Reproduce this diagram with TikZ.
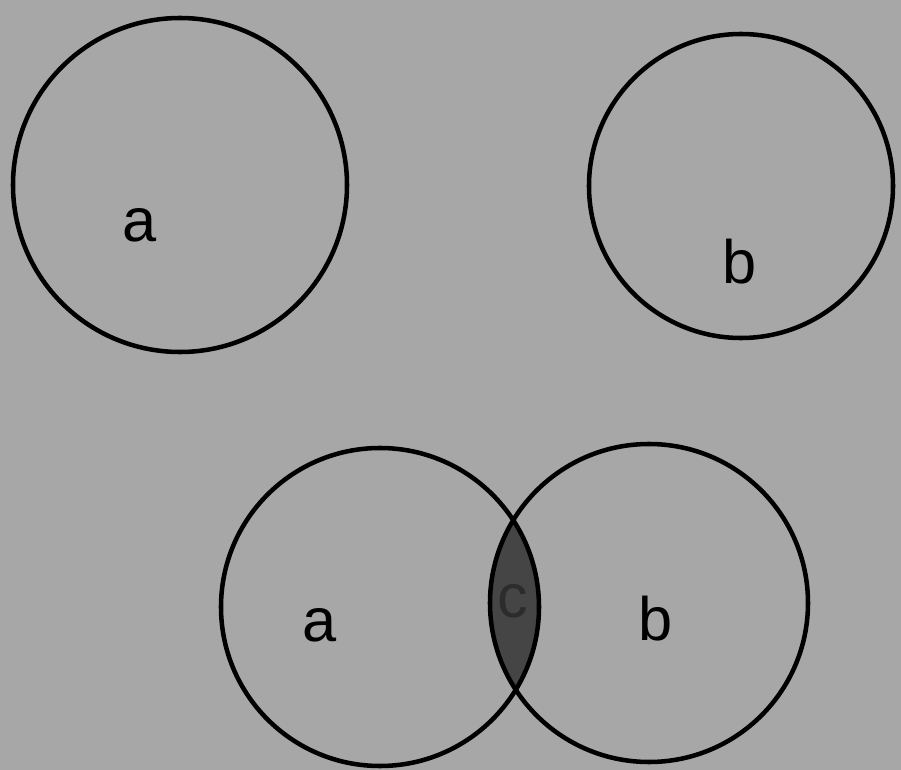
\documentclass[tikz,border=0pt]{standalone}
\usepackage{fontspec}
\setmainfont{Liberation Sans}
\definecolor{bg}{HTML}{A7A7A7}
\definecolor{lens}{HTML}{454545}
\definecolor{ctext}{HTML}{2C2C2C}
\begin{document}
\begin{tikzpicture}[x=0.75pt,y=-0.75pt,
  ring/.style={circle,draw=black,line width=3.4pt,inner sep=0pt},
  lbl/.style={font=\fontsize{46}{50}\selectfont,text=black,inner sep=0pt}]
\fill[bg] (0,0) rectangle (901,770);
\useasboundingbox (0,0) rectangle (901,770);
% lens
\begin{scope}
  \clip (380,607) circle[radius=159];
  \fill[lens] (649,603) circle[radius=159];
\end{scope}
\node[ring,minimum size=250.5pt] (A1) at (180,185) {};
\node[ring,minimum size=228pt] (B1) at (741,186) {};
\node[ring,minimum size=238.5pt] (A2) at (380,607) {};
\node[ring,minimum size=238.5pt] (B2) at (649,603) {};
\node[lbl] (la1) at (140,225) {a};
\node[lbl] (lb1) at (740,262) {b};
\node[lbl] (la2) at (320,625) {a};
\node[lbl] (lb2) at (656,619) {b};
\node[lbl,text=ctext] (lc) at (513,601) {c};
\end{tikzpicture}
\end{document}
